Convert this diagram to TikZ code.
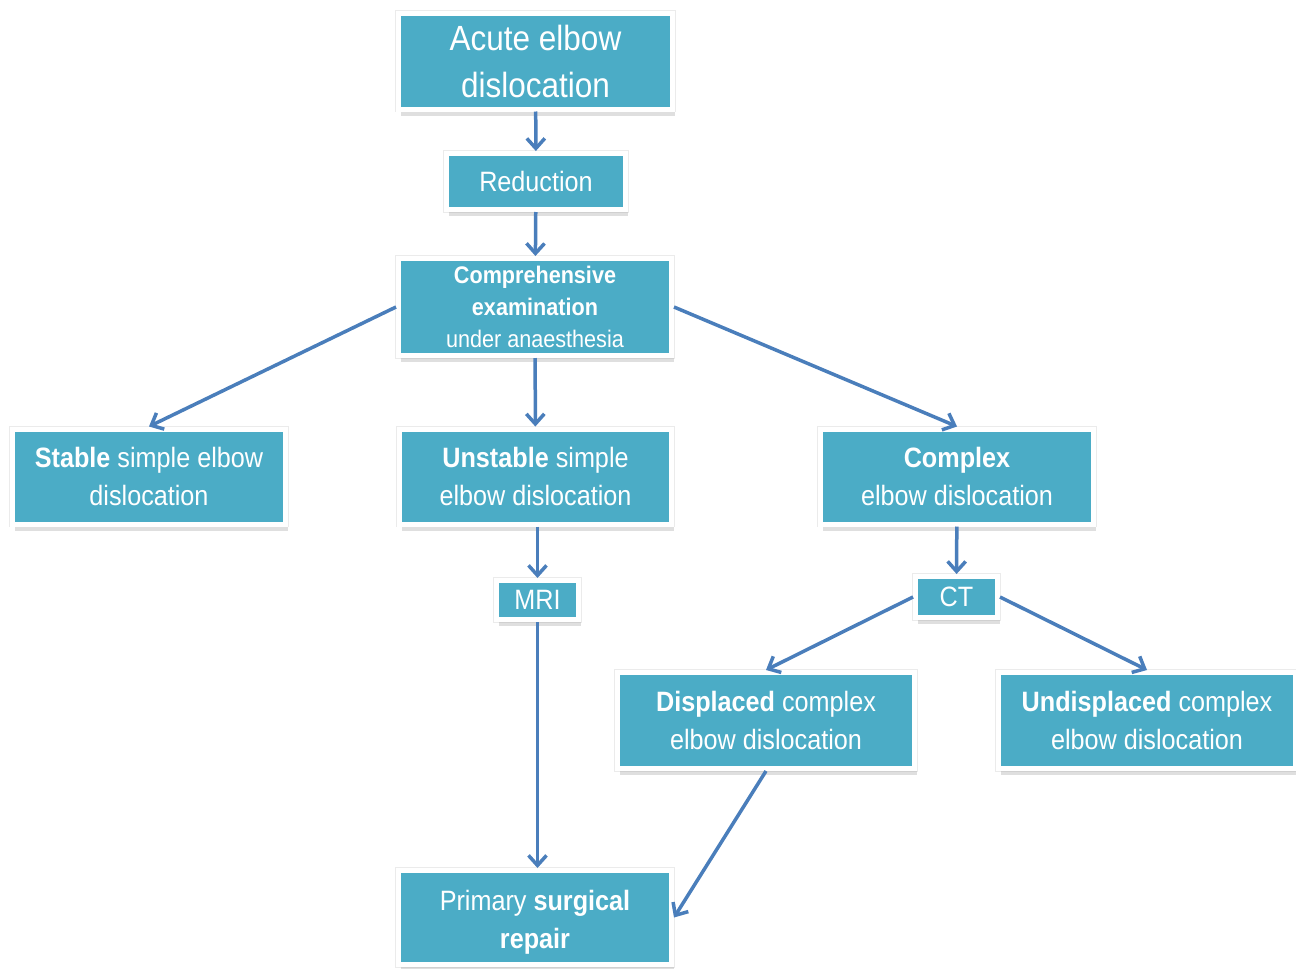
\documentclass[tikz,border=0pt]{standalone}
\usepackage{fontspec}
\setmainfont[FakeStretch=0.9]{Liberation Sans}
\usetikzlibrary{arrows.meta}
\usetikzlibrary{shadows}
\definecolor{boxteal}{HTML}{4BACC6}
\definecolor{arrowblue}{HTML}{4A7EBB}

\begin{document}
\begin{tikzpicture}[x=1pt,y=1pt,
    box/.style={draw=white, line width=5pt, fill=boxteal, text=white, align=center, inner sep=0pt,
        font=\fontsize{28}{38}\selectfont,
        preaction={draw=black!8, line width=6.5pt},
        drop shadow={shadow xshift=2pt, shadow yshift=-6.5pt, opacity=0.25}},
    arr/.style={-{Straight Barb[length=10pt,width=18pt]}, arrowblue, line width=3.5pt}]
    \useasboundingbox (0,0) rectangle (1296,-969);
    % boxes
    \node[box, minimum width=274pt, minimum height=96pt, font=\fontsize{35}{47}\selectfont] (acute) at (535.5,-61) {Acute elbow\\dislocation};
    \node[box, minimum width=179pt, minimum height=56pt] (reduction) at (536,-181.5) {Reduction};
    \node[box, minimum width=273pt, minimum height=97pt, font=\fontsize{24}{32}\selectfont] (exam) at (535,-307) {\textbf{Comprehensive}\\\textbf{examination}\\under anaesthesia};
    \node[box, minimum width=273pt, minimum height=95pt] (stable) at (149,-476.5) {\textbf{Stable} simple elbow\\dislocation};
    \node[box, minimum width=272pt, minimum height=95pt] (unstable) at (535.5,-476.5) {\textbf{Unstable} simple\\elbow dislocation};
    \node[box, minimum width=273pt, minimum height=95pt] (complex) at (957,-476.5) {\textbf{Complex}\\elbow dislocation};
    \node[box, minimum width=82pt, minimum height=39pt] (mri) at (537.5,-600) {MRI};
    \node[box, minimum width=82pt, minimum height=41pt] (ct) at (956.5,-597) {CT};
    \node[box, minimum width=297pt, minimum height=96pt] (displaced) at (766,-720.5) {\textbf{Displaced} complex\\elbow dislocation};
    \node[box, minimum width=297pt, minimum height=96pt] (undisplaced) at (1147,-720.5) {\textbf{Undisplaced} complex\\elbow dislocation};
    \node[box, minimum width=273pt, minimum height=94pt] (repair) at (535,-917.5) {\raisebox{-4pt}[\height][\depth]{\begin{tabular}{@{}c@{}}Primary \textbf{surgical}\\\textbf{repair}\end{tabular}}};
    % arrows
    \draw[arr] (acute) -- (reduction);
    \draw[arr] (reduction) -- (exam);
    \draw[arr] (exam.west) -- (stable.north);
    \draw[arr] (exam) -- (unstable);
    \draw[arr] (exam.east) -- (complex.north);
    \draw[arr] (unstable.south -| mri) -- (mri);
    \draw[arr] (complex) -- (ct);
    \draw[arr] (mri) -- (repair.north -| mri);
    \draw[arr] (ct.west) -- (displaced.north);
    \draw[arr] (ct.east) -- (undisplaced.north);
    \draw[arr] (displaced.south) -- (repair.east);
\end{tikzpicture}
\end{document}
